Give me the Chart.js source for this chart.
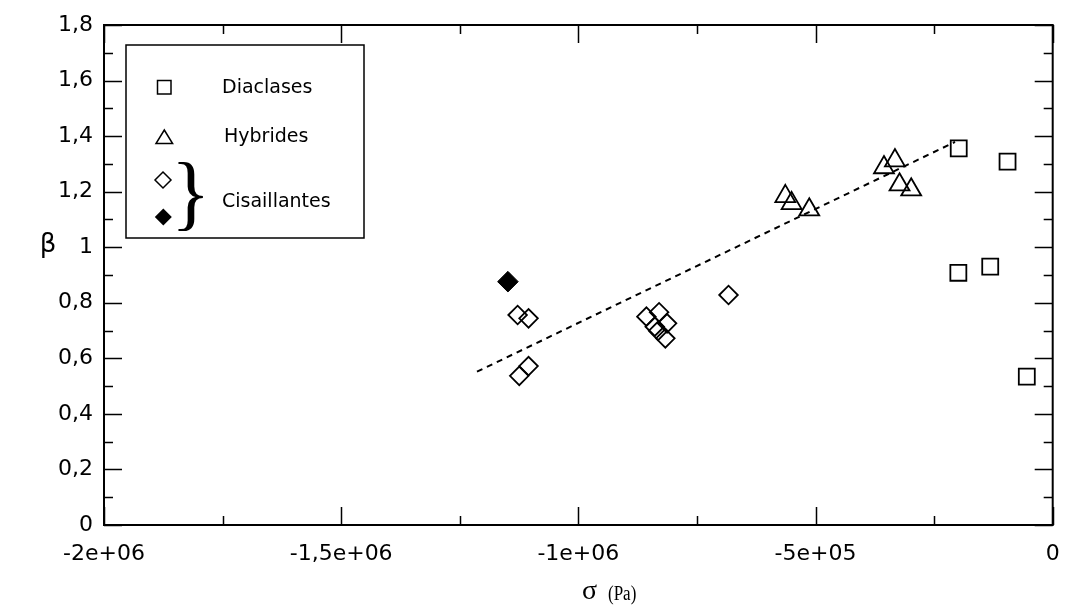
<!DOCTYPE html>
<html>
<head>
<meta charset="utf-8">
<script src="https://cdn.jsdelivr.net/npm/chart.js"></script>
<style>
  html, body { margin: 0; padding: 0; background: #fff; }
  #wrap { width: 1066px; height: 607px; }
</style>
</head>
<body>
<div id="wrap"><canvas id="chart" width="1066" height="607"></canvas></div>
<script>
// --- données ---
const diaclasesX = [-198100, -95200, -198900, -131700, -54600];
const diaclasesY = [1.356, 1.308, 0.908, 0.930, 0.534];

const hybridesX = [-563700, -550400, -513200, -355700, -332600, -322900, -298300];
const hybridesY = [1.183, 1.158, 1.135, 1.287, 1.312, 1.225, 1.207];

const cisOuvX = [-1128000, -1105000, -1124600, -1105000, -856500, -829800, -813000, -838900, -831900, -816600, -683400];
const cisOuvY = [0.756, 0.744, 0.537, 0.572, 0.750, 0.766, 0.726, 0.714, 0.699, 0.672, 0.828];

const cisPleinX = [-1148500];
const cisPleinY = [0.876];

const fitX = [-1213700, -205900];
const fitY = [0.552, 1.379];

const xTicks = [-2000000, -1500000, -1000000, -500000, 0];
const xTickLabels = ['-2e+06', '-1,5e+06', '-1e+06', '-5e+05', '0'];
const xMinor = [-1750000, -1250000, -750000, -250000];

const yTicks = [0, 0.2, 0.4, 0.6, 0.8, 1, 1.2, 1.4, 1.6, 1.8];
const yTickLabels = ['0', '0,2', '0,4', '0,6', '0,8', '1', '1,2', '1,4', '1,6', '1,8'];
const yMinor = [0.1, 0.3, 0.5, 0.7, 0.9, 1.1, 1.3, 1.5, 1.7];

const legendLabels = ['Diaclases', 'Hybrides', 'Cisaillantes'];

const pts = (xs, ys) => xs.map((x, i) => ({ x, y: ys[i] }));

const TICK_FONT = { family: 'DejaVu Sans', size: 22 };

// cadre, graduations intérieures, légende et titres
const framePlugin = {
  id: 'frame',
  afterDatasetsDraw(chart) {
    const { ctx, chartArea: a, scales: { x, y } } = chart;
    ctx.save();
    ctx.strokeStyle = '#000';

    ctx.lineWidth = 1.5;
    ctx.beginPath();
    const tickX = (v, len) => {
      const px = Math.round(x.getPixelForValue(v)) + 0.5;
      ctx.moveTo(px, a.bottom); ctx.lineTo(px, a.bottom - len);
      ctx.moveTo(px, a.top); ctx.lineTo(px, a.top + len);
    };
    const tickY = (v, len) => {
      const py = Math.round(y.getPixelForValue(v)) + 0.5;
      ctx.moveTo(a.left, py); ctx.lineTo(a.left + len, py);
      ctx.moveTo(a.right, py); ctx.lineTo(a.right - len, py);
    };
    xTicks.forEach(v => tickX(v, 18));
    xMinor.forEach(v => tickX(v, 9));
    yTicks.forEach(v => tickY(v, 18));
    yMinor.forEach(v => tickY(v, 9));
    ctx.stroke();

    ctx.lineWidth = 2;
    ctx.strokeRect(a.left, a.top, a.right - a.left, a.bottom - a.top);

    // légende
    ctx.fillStyle = '#fff';
    ctx.fillRect(126, 45, 238, 193);
    ctx.lineWidth = 1.5;
    ctx.strokeRect(126, 45, 238, 193);

    ctx.fillStyle = '#000';
    ctx.lineWidth = 1.5;
    ctx.strokeRect(157.5, 80.5, 13.5, 13.5);

    ctx.beginPath();
    ctx.moveTo(164.3, 130); ctx.lineTo(172.6, 143.5); ctx.lineTo(156, 143.5); ctx.closePath();
    ctx.stroke();

    ctx.beginPath();
    ctx.moveTo(163, 172); ctx.lineTo(171, 180); ctx.lineTo(163, 188); ctx.lineTo(155, 180); ctx.closePath();
    ctx.stroke();

    ctx.beginPath();
    ctx.moveTo(163.3, 208.5); ctx.lineTo(171.8, 217); ctx.lineTo(163.3, 225.5); ctx.lineTo(154.8, 217); ctx.closePath();
    ctx.fill();

    ctx.font = '19px "DejaVu Sans"';
    ctx.textBaseline = 'alphabetic';
    ctx.textAlign = 'left';
    ctx.fillText(legendLabels[0], 222, 92.5);
    ctx.fillText(legendLabels[1], 224, 141.5);
    ctx.fillText(legendLabels[2], 222, 206.5);

    ctx.font = '82px "Liberation Serif"';
    ctx.fillText('}', 171, 220);

    // titres des axes
    ctx.font = '26px "DejaVu Sans"';
    ctx.textAlign = 'center';
    ctx.textBaseline = 'middle';
    ctx.fillText('β', 48, 245);

    ctx.textAlign = 'left';
    ctx.textBaseline = 'alphabetic';
    ctx.font = '28px "Liberation Serif"';
    ctx.fillText('σ', 582, 599);
    ctx.save();
    ctx.translate(608, 600);
    ctx.scale(0.85, 1);
    ctx.font = '20px "Liberation Serif"';
    ctx.fillText('(Pa)', 0, 0);
    ctx.restore();

    ctx.restore();
  }
};

const marker = { borderColor: '#000', borderWidth: 1.8, backgroundColor: 'rgba(0,0,0,0)', hoverRadius: 0 };

new Chart(document.getElementById('chart'), {
  type: 'scatter',
  data: {
    datasets: [
      { label: 'Ajustement', type: 'line', data: pts(fitX, fitY), showLine: true,
        borderColor: '#000', borderWidth: 2, borderDash: [6, 5], pointRadius: 0, fill: false },
      { label: legendLabels[0], data: pts(diaclasesX, diaclasesY), pointStyle: 'rect', pointRadius: 11.3, ...marker },
      { label: legendLabels[1], data: pts(hybridesX, hybridesY), pointStyle: 'triangle', pointRadius: 11.5, ...marker },
      { label: legendLabels[2], data: pts(cisOuvX, cisOuvY), pointStyle: 'rectRot', pointRadius: 9.3, ...marker },
      { label: legendLabels[2] + ' (plein)', data: pts(cisPleinX, cisPleinY), pointStyle: 'rectRot', pointRadius: 10.3,
        borderColor: '#000', borderWidth: 1, backgroundColor: '#000' }
    ]
  },
  options: {
    responsive: false,
    animation: false,
    events: [],
    layout: { padding: { left: 0, top: 25, right: 10, bottom: 0 } },
    plugins: { legend: { display: false }, tooltip: { enabled: false } },
    scales: {
      x: {
        type: 'linear', min: -2000000, max: 0,
        afterFit: s => { s.height = 82; s.paddingLeft = 0; s.paddingRight = 0; },
        afterBuildTicks: s => { s.ticks = xTicks.map(v => ({ value: v })); },
        grid: { display: false, drawTicks: false },
        border: { display: false },
        ticks: { color: '#000', font: TICK_FONT, padding: 16, maxRotation: 0, autoSkip: false,
          callback: v => xTickLabels[xTicks.indexOf(v)] }
      },
      y: {
        type: 'linear', min: 0, max: 1.8,
        afterFit: s => { s.width = 104; s.paddingTop = 0; s.paddingBottom = 0; },
        afterBuildTicks: s => { s.ticks = yTicks.map(v => ({ value: v })); },
        grid: { display: false, drawTicks: false },
        border: { display: false },
        ticks: { color: '#000', font: TICK_FONT, padding: 11, autoSkip: false,
          callback: v => yTickLabels[yTicks.indexOf(v)] }
      }
    }
  },
  plugins: [framePlugin]
});
</script>
</body>
</html>
